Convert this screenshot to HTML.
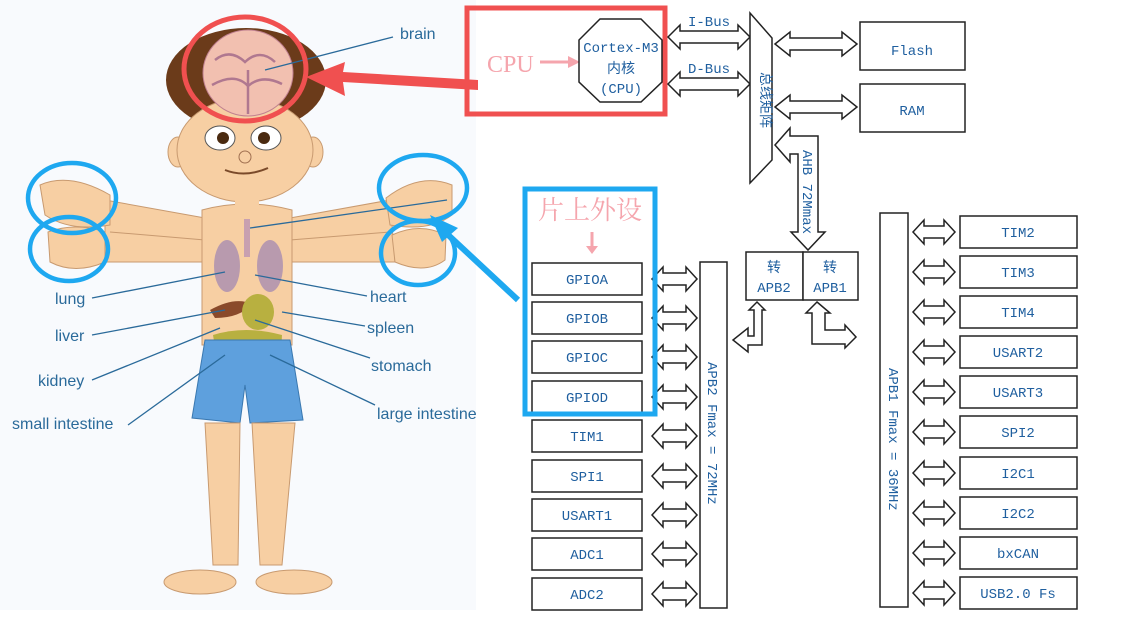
<!DOCTYPE html>
<html><head><meta charset="utf-8"><style>
html,body{margin:0;padding:0;background:#fff;}
svg{display:block;}
.t{font-family:"Liberation Sans","Noto Sans CJK SC",sans-serif;}
.m{font-family:"Liberation Mono","Noto Sans CJK SC",monospace;fill:#1f5f9f;font-size:14px;}
.lbl{font-family:"Liberation Sans",sans-serif;fill:#2a6a9a;font-size:16px;}
</style></head><body>
<svg width="1128" height="627" viewBox="0 0 1128 627" xmlns="http://www.w3.org/2000/svg">
<rect width="1128" height="627" fill="#fff"/>
<rect x="0" y="0" width="480" height="610" fill="#f8fafd"/>
<!-- boy -->
<g>
<!-- arms -->
<path d="M205,218 L105,200 L105,262 L205,262 Z" fill="#f7cfa3" stroke="#c89a70"/>
<path d="M290,218 L390,200 L395,262 L290,262 Z" fill="#f7cfa3" stroke="#c89a70"/>
<line x1="110" y1="232" x2="205" y2="240" stroke="#c89a70"/>
<line x1="390" y1="232" x2="290" y2="240" stroke="#c89a70"/>
<path d="M40,185 Q70,172 110,195 L110,225 Q70,232 45,215 Z" fill="#f7cfa3" stroke="#c89a70"/>
<path d="M48,232 Q75,222 105,232 L105,262 Q75,275 50,262 Z" fill="#f7cfa3" stroke="#c89a70"/>
<path d="M452,185 Q420,172 386,198 L390,225 Q430,232 452,215 Z" fill="#f7cfa3" stroke="#c89a70"/>
<path d="M446,235 Q420,222 392,235 L395,262 Q425,275 445,260 Z" fill="#f7cfa3" stroke="#c89a70"/>
<!-- torso -->
<path d="M202,210 Q246,198 292,210 L292,345 L202,345 Z" fill="#f7cfa3" stroke="#c89a70"/>
<!-- organs -->
<ellipse cx="227" cy="266" rx="13" ry="26" fill="#b89aae"/>
<ellipse cx="270" cy="266" rx="13" ry="26" fill="#b89aae"/>
<rect x="244" y="219" width="6" height="38" fill="#c8a0b0"/>
<path d="M210,310 Q235,296 252,304 Q240,318 215,318 Z" fill="#8a4a2a"/>
<ellipse cx="258" cy="312" rx="16" ry="18" fill="#b8b040"/>
<path d="M213,335 Q245,325 282,335 L280,370 Q245,378 218,365 Z" fill="#b8b040"/>
<rect x="226" y="344" width="44" height="20" rx="6" fill="#e8685a"/>
<!-- shorts -->
<path d="M205,340 L290,340 L303,420 L250,423 L245,385 L240,423 L192,418 Z" fill="#5ea0dd" stroke="#3a78b0"/>
<!-- legs -->
<path d="M205,423 L240,423 L238,565 L213,565 Z" fill="#f7cfa3" stroke="#c89a70"/>
<path d="M252,423 L295,423 L282,565 L260,565 Z" fill="#f7cfa3" stroke="#c89a70"/>
<ellipse cx="200" cy="582" rx="36" ry="12" fill="#f7cfa3" stroke="#c89a70"/>
<ellipse cx="294" cy="582" rx="38" ry="12" fill="#f7cfa3" stroke="#c89a70"/>
<!-- head -->
<ellipse cx="246" cy="80" rx="80" ry="52" fill="#6b3b1a"/>
<ellipse cx="178" cy="152" rx="10" ry="15" fill="#f7cfa3" stroke="#c89a70"/>
<ellipse cx="313" cy="152" rx="10" ry="15" fill="#f7cfa3" stroke="#c89a70"/>
<ellipse cx="245" cy="150" rx="68" ry="52" fill="#f7cfa3" stroke="#c89a70"/>
<rect x="235" y="195" width="24" height="18" fill="#f7cfa3"/>
<ellipse cx="220" cy="138" rx="15" ry="12" fill="#fff" stroke="#555"/>
<ellipse cx="266" cy="138" rx="15" ry="12" fill="#fff" stroke="#555"/>
<circle cx="223" cy="138" r="6" fill="#4a2a10"/>
<circle cx="264" cy="138" r="6" fill="#4a2a10"/>
<circle cx="245" cy="157" r="6" fill="none" stroke="#a07050"/>
<path d="M225,170 Q245,178 268,168" stroke="#7a4a2a" fill="none" stroke-width="2"/>
<ellipse cx="248" cy="73" rx="45" ry="43" fill="#f2c0b0" stroke="#c08090"/>
<path d="M215,60 Q230,48 245,62 Q260,48 275,62 M212,85 Q235,72 248,86 Q262,74 282,84 M248,70 L248,114" stroke="#b07890" fill="none" stroke-width="2.5"/>
</g>
<!-- leader lines -->
<g stroke="#2a6a9a" stroke-width="1.3" fill="none">
<line x1="265" y1="70" x2="393" y2="37"/>
<line x1="92" y1="298" x2="225" y2="272"/>
<line x1="92" y1="335" x2="225" y2="310"/>
<line x1="92" y1="380" x2="220" y2="328"/>
<line x1="128" y1="425" x2="225" y2="355"/>
<line x1="255" y1="275" x2="367" y2="296"/>
<line x1="282" y1="312" x2="365" y2="326"/>
<line x1="255" y1="320" x2="370" y2="358"/>
<line x1="270" y1="355" x2="375" y2="405"/>
<line x1="250" y1="228" x2="447" y2="200"/>
</g>
<text class="lbl" x="400" y="39">brain</text>
<text class="lbl" x="55" y="304">lung</text>
<text class="lbl" x="55" y="341">liver</text>
<text class="lbl" x="38" y="386">kidney</text>
<text class="lbl" x="12" y="429">small intestine</text>
<text class="lbl" x="370" y="302">heart</text>
<text class="lbl" x="367" y="333">spleen</text>
<text class="lbl" x="371" y="371">stomach</text>
<text class="lbl" x="377" y="419">large intestine</text>
<rect x="476" y="0" width="20" height="620" fill="#fff"/>
<!-- annotation circles -->
<ellipse cx="245" cy="69" rx="61" ry="52" fill="none" stroke="#f05050" stroke-width="5"/>
<path d="M478,90 L343,82 L345,96 L306,77 L345,62 L343,72 L478,80 Z" fill="#f05050"/>
<g fill="none" stroke="#1ea8f0" stroke-width="4.5">
<ellipse cx="72" cy="198" rx="44" ry="35"/>
<ellipse cx="69" cy="249" rx="39" ry="32"/>
<ellipse cx="423" cy="188" rx="44" ry="33"/>
<ellipse cx="418" cy="253" rx="37" ry="32"/>
</g>
<path d="M518,300 L445,232" stroke="#1ea8f0" stroke-width="6"/>
<path d="M430,215 L458,228 L442,242 Z" fill="#1ea8f0"/>
<!-- CPU area -->
<rect x="467" y="8" width="198" height="106" fill="none" stroke="#f05050" stroke-width="5"/>
<text x="487" y="72" class="t" style="font-family:'Liberation Serif',serif;font-size:24px;fill:#f5a5ad">CPU</text>
<line x1="540" y1="62" x2="570" y2="62" stroke="#f5a5ad" stroke-width="3"/>
<path d="M568,56 L580,62 L568,68 Z" fill="#f5a5ad"/>
<polygon points="600,19 641,19 662,40 662,82 641,102 600,102 579,82 579,40" fill="#fff" stroke="#222" stroke-width="1.5"/>
<text class="m" x="621" y="52" text-anchor="middle" font-size="13">Cortex-M3</text>
<text class="m" x="621" y="73" text-anchor="middle" font-size="13">内核</text>
<text class="m" x="621" y="93" text-anchor="middle" font-size="13">(CPU)</text>
<!-- bus arrows -->
<g fill="#fff" stroke="#222" stroke-width="1.5">
<path d="M668,37 L680,25 L680,31 L738,31 L738,25 L750,37 L738,49 L738,43 L680,43 L680,49 Z"/>
<path d="M668,84 L680,72 L680,78 L738,78 L738,72 L750,84 L738,96 L738,90 L680,90 L680,96 Z"/>
<path d="M775,44 L790,32 L790,38 L842,38 L842,32 L857,44 L842,56 L842,50 L790,50 L790,56 Z"/>
<path d="M775,107 L790,95 L790,101 L842,101 L842,95 L857,107 L842,119 L842,113 L790,113 L790,119 Z"/>
<polygon points="750,13 772,38 772,160 750,183"/>
<path d="M775,145 L790,128 L790,136 L818,136 L818,232 L825,232 L808,250 L791,232 L798,232 L798,154 L790,154 L790,162 Z"/>
<rect x="860" y="22" width="105" height="48"/>
<rect x="860" y="84" width="105" height="48"/>
<rect x="746" y="252" width="57" height="48"/>
<rect x="803" y="252" width="55" height="48"/>
<rect x="700" y="262" width="27" height="346"/>
<rect x="880" y="213" width="28" height="394"/>
<path d="M757,302 L765,310 L762,310 L762,345 L748,345 L748,352 L733,340 L748,328 L748,336 L754,336 L754,310 L749,310 Z" />
<path d="M817,302 L830,313 L825,313 L825,330 L845,330 L845,325 L856,337 L845,348 L845,344 L812,344 L812,313 L806,313 Z"/>
</g>
<text class="m" x="912" y="55" text-anchor="middle">Flash</text>
<text class="m" x="912" y="115" text-anchor="middle">RAM</text>
<text class="m" x="709" y="26" text-anchor="middle" font-size="15">I-Bus</text>
<text class="m" x="709" y="73" text-anchor="middle" font-size="15">D-Bus</text>
<text class="m" x="761" y="72" font-size="11" transform="rotate(90 761 72)">总线矩阵</text>
<text class="m" x="803" y="150" font-size="12" transform="rotate(90 803 150)">AHB 72Mmax</text>
<text class="m" x="774" y="272" text-anchor="middle" font-size="12">转</text>
<text class="m" x="774" y="292" text-anchor="middle" font-size="13">APB2</text>
<text class="m" x="830" y="272" text-anchor="middle" font-size="12">转</text>
<text class="m" x="830" y="292" text-anchor="middle" font-size="13">APB1</text>
<text class="m" x="708" y="362" font-size="13" transform="rotate(90 708 362)">APB2 Fmax = 72MHz</text>
<text class="m" x="889" y="368" font-size="13" transform="rotate(90 889 368)">APB1 Fmax = 36MHz</text>
<!-- left boxes -->
<g fill="#fff" stroke="#222" stroke-width="1.5">
<rect x="532" y="263" width="110" height="32"/><rect x="532" y="302" width="110" height="32"/>
<rect x="532" y="341" width="110" height="32"/><rect x="532" y="381" width="110" height="32"/>
<rect x="532" y="420" width="110" height="32"/><rect x="532" y="460" width="110" height="32"/>
<rect x="532" y="499" width="110" height="32"/><rect x="532" y="538" width="110" height="32"/>
<rect x="532" y="578" width="110" height="32"/>
</g>
<g fill="#fff" stroke="#222" stroke-width="1.5">
<path id="la" d="M652,279 L663,267 L663,273 L686,273 L686,267 L697,279 L686,291 L686,285 L663,285 L663,291 Z"/>
<use href="#la" y="39"/><use href="#la" y="78"/><use href="#la" y="118"/><use href="#la" y="157"/>
<use href="#la" y="197"/><use href="#la" y="236"/><use href="#la" y="275"/><use href="#la" y="315"/>
</g>
<g class="m" text-anchor="middle">
<text x="587" y="284">GPIOA</text><text x="587" y="323">GPIOB</text><text x="587" y="362">GPIOC</text>
<text x="587" y="402">GPIOD</text><text x="587" y="441">TIM1</text><text x="587" y="481">SPI1</text>
<text x="587" y="520">USART1</text><text x="587" y="559">ADC1</text><text x="587" y="599">ADC2</text>
</g>
<!-- right boxes -->
<g fill="#fff" stroke="#222" stroke-width="1.5">
<rect x="960" y="216" width="117" height="32"/><rect x="960" y="256" width="117" height="32"/>
<rect x="960" y="296" width="117" height="32"/><rect x="960" y="336" width="117" height="32"/>
<rect x="960" y="376" width="117" height="32"/><rect x="960" y="416" width="117" height="32"/>
<rect x="960" y="457" width="117" height="32"/><rect x="960" y="497" width="117" height="32"/>
<rect x="960" y="537" width="117" height="32"/><rect x="960" y="577" width="117" height="32"/>
<path id="ra" d="M913,232 L924,220 L924,226 L944,226 L944,220 L955,232 L944,244 L944,238 L924,238 L924,244 Z"/>
<use href="#ra" y="40"/><use href="#ra" y="80"/><use href="#ra" y="120"/><use href="#ra" y="160"/>
<use href="#ra" y="200"/><use href="#ra" y="241"/><use href="#ra" y="281"/><use href="#ra" y="321"/><use href="#ra" y="361"/>
</g>
<g class="m" text-anchor="middle">
<text x="1018" y="237">TIM2</text><text x="1018" y="277">TIM3</text><text x="1018" y="317">TIM4</text>
<text x="1018" y="357">USART2</text><text x="1018" y="397">USART3</text><text x="1018" y="437">SPI2</text>
<text x="1018" y="478">I2C1</text><text x="1018" y="518">I2C2</text><text x="1018" y="558">bxCAN</text>
<text x="1018" y="598">USB2.0 Fs</text>
</g>
<!-- blue box -->
<rect x="525" y="189" width="130" height="225" fill="none" stroke="#1ea8f0" stroke-width="5"/>
<text x="590" y="219" text-anchor="middle" class="t" style="font-family:'Noto Serif CJK SC','Noto Sans CJK SC',serif;font-size:26px;fill:#f5a5ad">片上外设</text>
<line x1="592" y1="232" x2="592" y2="248" stroke="#f5a5ad" stroke-width="3"/>
<path d="M586,246 L592,254 L598,246 Z" fill="#f5a5ad"/>
</svg>
</body></html>
